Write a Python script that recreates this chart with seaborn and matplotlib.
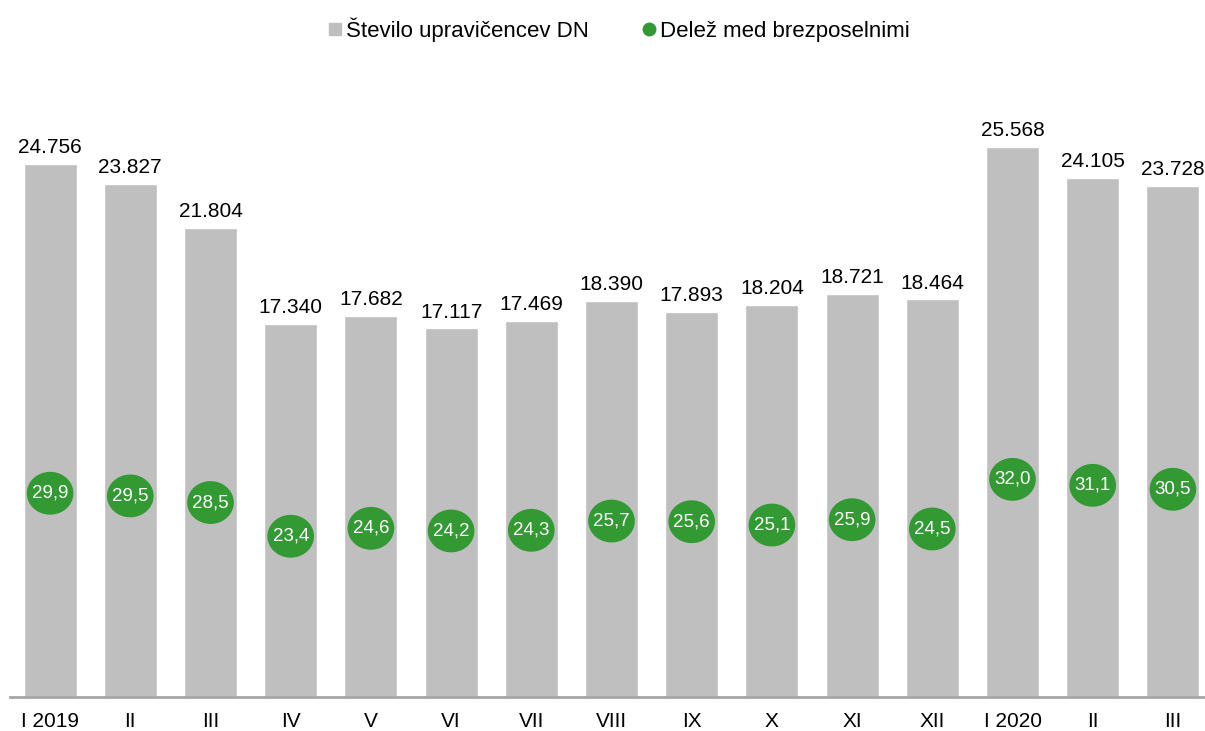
import matplotlib
matplotlib.use("Agg")
import matplotlib.pyplot as plt
import seaborn as sns
import numpy as np
import pandas as pd
from matplotlib.path import Path
from matplotlib.lines import Line2D

categories = ["I 2019", "II 2019", "III 2019", "IV 2019", "V 2019", "VI 2019", "VII 2019",
              "VIII 2019", "IX 2019", "X 2019", "XI 2019", "XII 2019", "I 2020", "II 2020", "III 2020"]
tick_labels = ["I 2019", "II", "III", "IV", "V", "VI", "VII", "VIII", "IX", "X", "XI", "XII",
               "I 2020", "II", "III"]
recipients = [24756, 23827, 21804, 17340, 17682, 17117, 17469, 18390, 17893, 18204, 18721, 18464,
              25568, 24105, 23728]
share = [29.9, 29.5, 28.5, 23.4, 24.6, 24.2, 24.3, 25.7, 25.6, 25.1, 25.9, 24.5, 32.0, 31.1, 30.5]

bar_name = "Število upravičencev DN"
dot_name = "Delež med brezposelnimi"

sns.set_theme(style="white")
plt.rcParams["font.family"] = ["Liberation Sans", "DejaVu Sans"]

GREY = "#bfbfbf"
GREEN = "#339933"

df = pd.DataFrame({"cat": categories, "n": recipients, "share": share})

W, H = 1205, 731
fig = plt.figure(figsize=(W / 100, H / 100), dpi=100)
ax_left = 10 / W
ax_bottom = (H - 697) / H
ax_top = (H - 100) / H
ax = fig.add_axes([ax_left, ax_bottom, 1203 / W, ax_top - ax_bottom])

sns.barplot(data=df, x="cat", y="n", color=GREY, saturation=1, width=0.66, ax=ax)
ax.set_ylim(0, (697 - 100) / 0.02153)
ax.set_xlim(-0.5, len(categories) - 0.5)
labels = [f"{v:,}".replace(",", ".") for v in recipients]
ax.bar_label(ax.containers[0], labels=labels, padding=5, fontsize=15, color="#000000")

ax.set_xticks(range(len(categories)))
ax.set_xticklabels(tick_labels, fontsize=15, color="#000000")
ax.tick_params(axis="x", length=0, pad=11)
ax.set_yticks([])
ax.set_xlabel("")
ax.set_ylabel("")
for s in ["top", "right", "left"]:
    ax.spines[s].set_visible(False)
ax.spines["bottom"].set_color("#a6a6a6")
ax.spines["bottom"].set_linewidth(2)

ax2 = ax.twinx()
t = np.linspace(0, 2 * np.pi, 100)
ell = Path(np.column_stack([1.09 * np.cos(t), np.sin(t)]), closed=True)
sns.scatterplot(data=df, x="cat", y="share", marker=ell, s=33.6 ** 2, color=GREEN,
                edgecolor="none", linewidth=0, ax=ax2, legend=False, zorder=3)
ax2.set_ylim(-0.9, -0.9 + 597 / 6.615)
ax2.set_xlim(-0.5, len(categories) - 0.5)
for i, v in enumerate(share):
    ax2.text(i, v, f"{v:.1f}".replace(".", ","), ha="center", va="center",
             color="white", fontsize=13.5, zorder=4)
ax2.set_yticks([])
ax2.set_ylabel("")
for s in ax2.spines.values():
    s.set_visible(False)

handles = [
    Line2D([], [], linestyle="none", marker="s", markersize=8, color=GREY, label=bar_name),
    Line2D([], [], linestyle="none", marker="o", markersize=9, color=GREEN, label=dot_name),
]
leg = fig.legend(handles=handles, loc="center", bbox_to_anchor=(618 / W, 1 - 30 / H), ncol=2,
                 frameon=False, fontsize=16, handletextpad=0.1, columnspacing=2.3,
                 handlelength=0.8)
for txt in leg.get_texts():
    txt.set_color("#000000")

fig.savefig("out.png", dpi=100)
